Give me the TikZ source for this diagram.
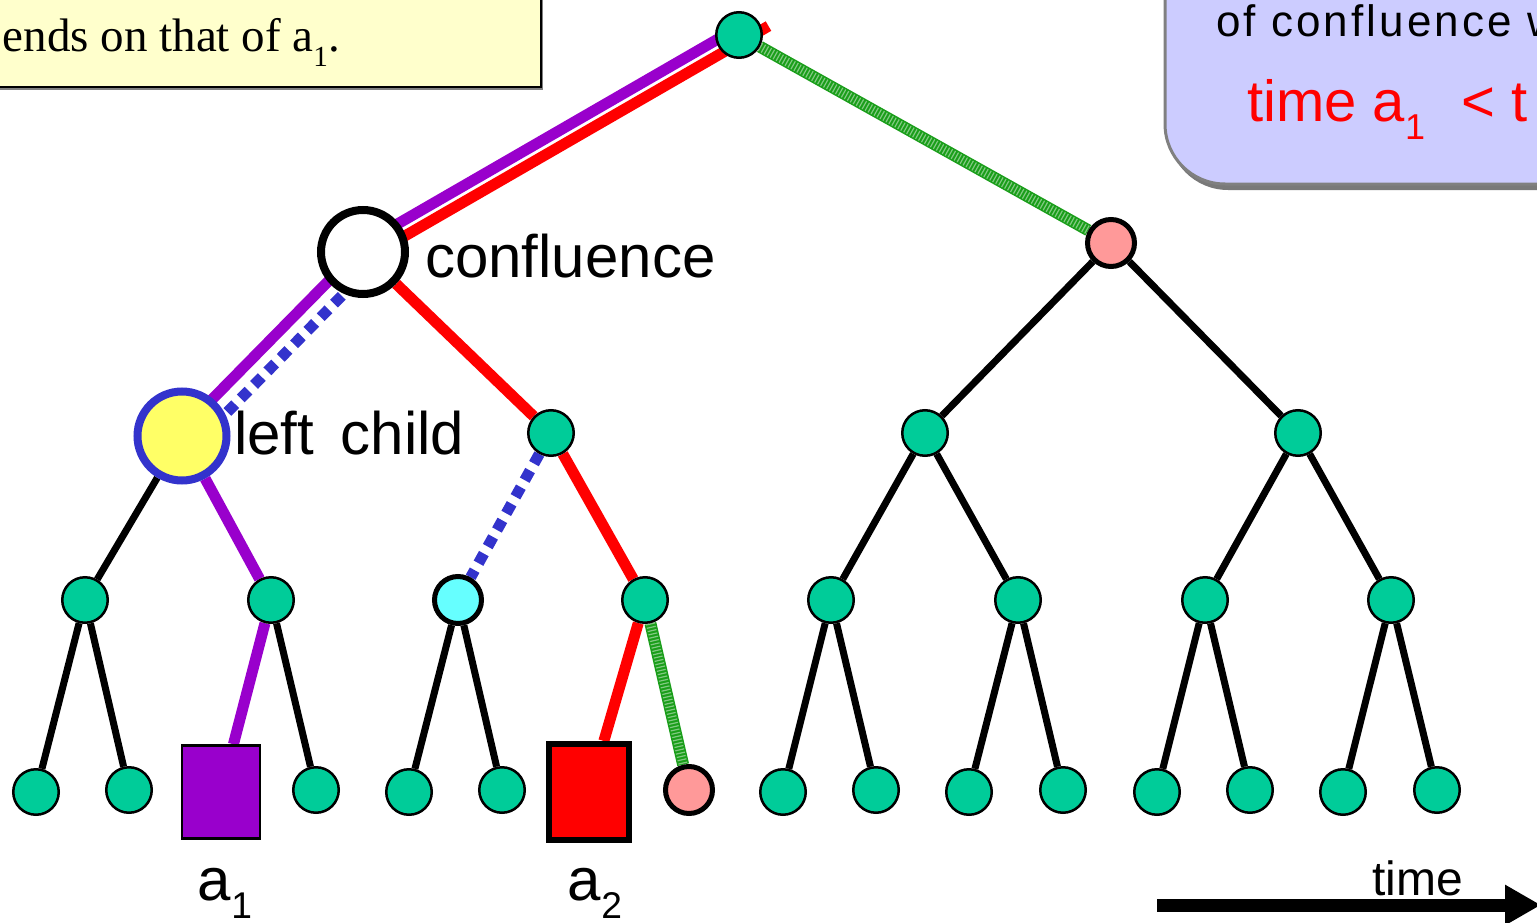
\documentclass[tikz,border=0pt]{standalone}
\usepackage{fontspec}
\usepackage{graphicx}
\setmainfont{Liberation Serif}
\setsansfont{Liberation Sans}
\usetikzlibrary{arrows.meta,backgrounds}

% lowered small index, e.g. a_1 in text fonts
\newcommand{\lowidx}[1]{\raisebox{-0.3em}{\scalebox{0.62}{#1}}}

\begin{document}
\begin{tikzpicture}[x=1pt, y=-1pt,
    tnode/.style={circle, draw=black, line width=2.5pt, fill=tealC, minimum size=45.5pt, inner sep=0pt},
    pnode/.style={circle, draw=black, line width=5pt, fill=pinkC, minimum size=47pt, inner sep=0pt},
    cnode/.style={circle, draw=black, line width=5pt, fill=cyanC, minimum size=47pt, inner sep=0pt},
    blk/.style={line width=7pt},
    vline/.style={draw=purpleC, line width=11pt},
    rline/.style={draw=red, line width=11pt},
    bdots/.style={draw=blueC, line width=11pt, dash pattern=on 11pt off 8pt},
    gline/.style={draw=greenC, line width=12pt,
        postaction={draw, white, opacity=0.45, line width=9pt, dash pattern=on 1.2pt off 2.2pt}},
    lbl/.style={font=\sffamily\fontsize{60}{60}\selectfont, inner sep=0pt}]
    \definecolor{tealC}{HTML}{00CC99}
    \definecolor{pinkC}{HTML}{FF9999}
    \definecolor{cyanC}{HTML}{66FFFF}
    \definecolor{purpleC}{HTML}{9900CC}
    \definecolor{blueC}{HTML}{3333CC}
    \definecolor{greenC}{HTML}{1A9E1A}
    \definecolor{yellowC}{HTML}{FFFF66}
    \definecolor{noteY}{HTML}{FFFFCC}
    \definecolor{noteB}{HTML}{CCCCFF}

    \useasboundingbox (0,0) rectangle (1537,923);
    \clip (0,0) rectangle (1537,923);

    % Note boxes
    \fill[gray] (-20,-20) rectangle (543,90);
    \filldraw[fill=noteY, draw=black, line width=2pt] (-20,-20) rectangle (541,87);
    \node[font=\fontsize{47}{50}\selectfont, inner sep=0pt, anchor=base east] (note1) at (340,52) {ends on that of a\lowidx{1}.};

    \fill[gray!95!black, rounded corners=60pt] (1168,-60) rectangle (1620,190);
    \filldraw[fill=noteB, draw=gray, line width=3pt, rounded corners=60pt] (1165,-60) rectangle (1620,184);
    \node[font=\sffamily\fontsize{44}{44}\selectfont\addfontfeature{LetterSpace=7}, inner sep=0pt, anchor=base west] (note2) at (1216,37) {of confluence w};
    \node[font=\sffamily\fontsize{58}{58}\selectfont, text=red, inner sep=0pt, anchor=base west] (note3) at (1247,122) {time a\lowidx{1}\hspace{20pt} < t};

    % Upper tree levels
    \node[tnode] (root) at (739,35) {};
    \node[circle, draw=black, line width=8pt, fill=white, minimum size=84pt] (conf) at (363,252) {};
    \node[pnode] (r) at (1111,243) {};
    \node[circle, draw=blueC, line width=8pt, fill=yellowC, minimum size=89pt] (lc) at (182,436) {};
    \foreach \n/\x in {cr/551, rl/925, rr/1298}
        \node[tnode] (\n) at (\x,433) {};

    % Level 3
    \foreach \n/\x in {m1/85, m2/271, m4/645, m5/831, m6/1018, m7/1205, m8/1391}
        \node[tnode] (\n) at (\x,600) {};
    \node[cnode] (m3) at (458,600) {};

    % Leaves
    \foreach \n/\x/\y in {l1/36/792, l2/129/790, l4/316/790, l5/409/792, l6/502/790,
                          l9/783/792, l10/876/790, l11/969/792, l12/1063/790,
                          l13/1157/792, l14/1250/790, l15/1343/792, l16/1437/790}
        \node[tnode] (\n) at (\x,\y) {};
    \node[draw=black, line width=2.5pt, fill=purpleC, minimum width=78pt, minimum height=93pt] (a1) at (221,792) {};
    \node[draw=black, line width=6pt, fill=red, minimum width=80pt, minimum height=96pt] (a2) at (589,792) {};
    \node[pnode] (l8) at (689,790) {};
    \coordinate (rtop) at (765,20);

    % Labels
    \node[lbl, anchor=base west] (conflbl) at (425,277) {confluence};
    \node[lbl, anchor=base west] (lclbl) at (234,454) {left\hspace{10pt} child};
    \node[lbl, anchor=base] (a1lbl) at (225,900) {a\lowidx{1}};
    \node[lbl, anchor=base] (a2lbl) at (595,900) {a\lowidx{2}};

    % Time axis
    \node[font=\sffamily\fontsize{48}{48}\selectfont, inner sep=0pt, anchor=base west] (tlbl) at (1372,895) {time};
    \coordinate (t0) at (1157,905);
    \coordinate (t1) at (1541,905);
    \draw[line width=13pt, -{Triangle[length=36pt, width=38pt]}] (t0) -- (t1);

    % Edges
    \begin{pgfonlayer}{background}
        \foreach \a/\b in {lc/m1, m1/l1, m1/l2, m2/l4, m3/l5, m3/l6, r/rl, r/rr,
                           rl/m5, rl/m6, rr/m7, rr/m8, m5/l9, m5/l10, m6/l11, m6/l12,
                           m7/l13, m7/l14, m8/l15, m8/l16}
            \draw[blk] (\a) -- (\b);
        % path of a1
        \draw[vline, transform canvas={shift={(-3.5,-6.1)}}] (root.center) -- (conf.center);
        \draw[vline, transform canvas={shift={(-3,-3)}}] (conf.center) -- (lc.center);
        \draw[vline] (lc) -- (m2) -- (a1);
        % path of a2
        \draw[rline, transform canvas={shift={(3.5,6.1)}}] (rtop) -- (conf.center);
        \draw[rline] (conf) -- (cr) -- (m4) -- (a2);
        % left children
        \draw[bdots, transform canvas={shift={(11,11)}}] (conf) -- (lc);
        \draw[bdots] (cr) -- (m3);
        % green paths
        \draw[gline] (root) -- (r);
        \draw[gline] (m4) -- (l8);
    \end{pgfonlayer}
\end{tikzpicture}
\end{document}
